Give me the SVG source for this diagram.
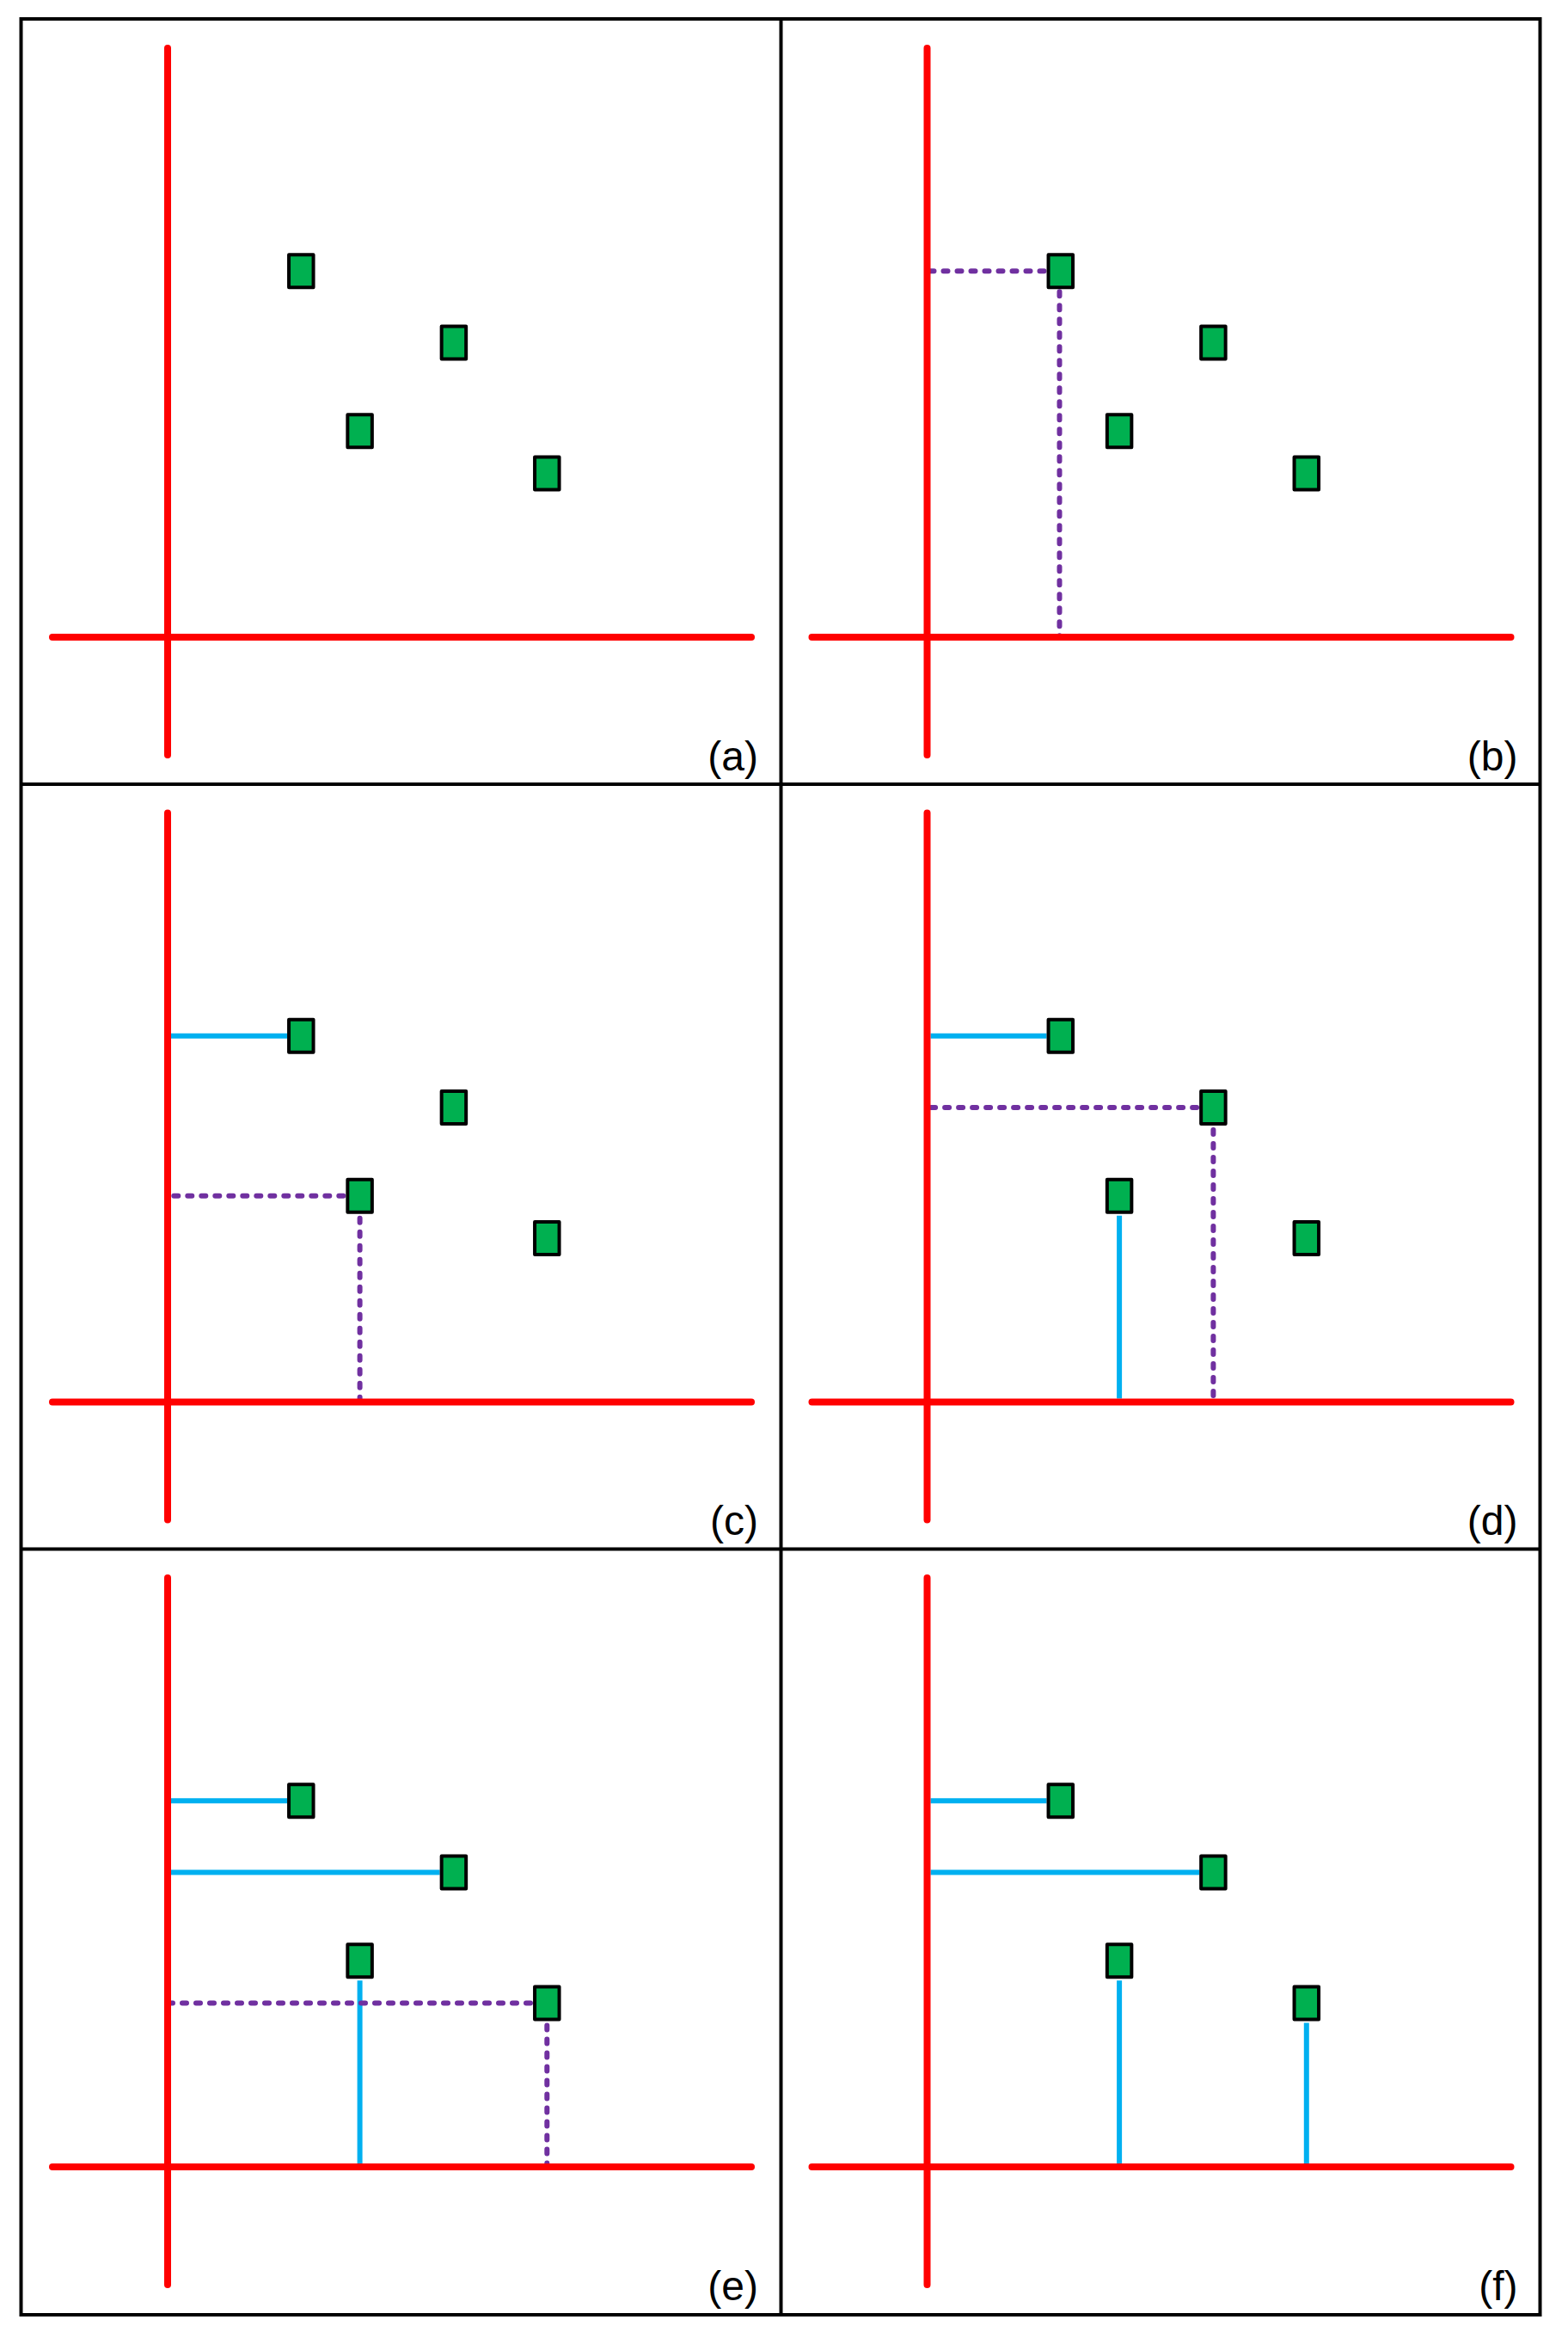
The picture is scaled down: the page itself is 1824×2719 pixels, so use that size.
<svg xmlns="http://www.w3.org/2000/svg" width="1824" height="2719" viewBox="0 0 1824 2719">
<style>
.frame{fill:none;stroke:#000;stroke-width:4}
.axis{stroke:#FF0000;stroke-width:8;stroke-linecap:round;fill:none}
.pt{fill:#00B050;stroke:#000;stroke-width:4;stroke-linejoin:round}
.solid{stroke:#00B0F0;stroke-width:6;fill:none}
.dot{stroke:#7030A0;stroke-width:6;stroke-dasharray:5 11;stroke-linecap:round;fill:none}
.lbl{font-family:"Liberation Sans",Arial,sans-serif;font-size:48px;fill:#000;text-anchor:end}
</style>
<rect width="1824" height="2719" fill="#fff"/>
<g id="frame">
<rect class="frame" x="24.5" y="22" width="1767" height="2670"/>
<line class="frame" x1="908.5" y1="22" x2="908.5" y2="2692"/>
<line class="frame" x1="24.5" y1="912" x2="1791.5" y2="912"/>
<line class="frame" x1="24.5" y1="1801.5" x2="1791.5" y2="1801.5"/>
</g>
<g id="connectors">
<g id="conn-b" transform="translate(883.5,0)">
<line class="dot" x1="198" y1="315.3" x2="331" y2="315.3"/>
<line class="dot" x1="349" y1="339.3" x2="349" y2="741"/>
</g>
<g id="conn-c" transform="translate(0,889.5)">
<line class="solid" x1="199" y1="315.3" x2="334" y2="315.3"/>
<line class="dot" x1="202.3" y1="501.3" x2="399.3" y2="501.3"/>
<line class="dot" x1="418.6" y1="527.3" x2="418.6" y2="741"/>
</g>
<g id="conn-d" transform="translate(883.5,889.5)">
<line class="solid" x1="199" y1="315.3" x2="334" y2="315.3"/>
<line class="dot" x1="199.6" y1="398.4" x2="508.6" y2="398.4"/>
<line class="dot" x1="527.9" y1="424.4" x2="527.9" y2="741"/>
<line class="solid" x1="418.6" y1="524.3" x2="418.6" y2="737"/>
</g>
<g id="conn-e" transform="translate(0,1779)">
<line class="solid" x1="199" y1="315.3" x2="334" y2="315.3"/>
<line class="solid" x1="199" y1="398.4" x2="511.6" y2="398.4"/>
<line class="solid" x1="418.6" y1="524.3" x2="418.6" y2="737"/>
<line class="dot" x1="196" y1="550.5" x2="617" y2="550.5"/>
<line class="dot" x1="636.3" y1="576.5" x2="636.3" y2="741"/>
</g>
<g id="conn-f" transform="translate(883.5,1779)">
<line class="solid" x1="199" y1="315.3" x2="334" y2="315.3"/>
<line class="solid" x1="199" y1="398.4" x2="511.6" y2="398.4"/>
<line class="solid" x1="418.6" y1="524.3" x2="418.6" y2="737"/>
<line class="solid" x1="636.3" y1="573.5" x2="636.3" y2="737"/>
</g>
</g>
<g id="axes">
<g transform="translate(0,0)"><line class="axis" x1="195" y1="56" x2="195" y2="878"/><line class="axis" x1="61" y1="741" x2="874" y2="741"/></g>
<g transform="translate(883.5,0)"><line class="axis" x1="195" y1="56" x2="195" y2="878"/><line class="axis" x1="61" y1="741" x2="874" y2="741"/></g>
<g transform="translate(0,889.5)"><line class="axis" x1="195" y1="56" x2="195" y2="878"/><line class="axis" x1="61" y1="741" x2="874" y2="741"/></g>
<g transform="translate(883.5,889.5)"><line class="axis" x1="195" y1="56" x2="195" y2="878"/><line class="axis" x1="61" y1="741" x2="874" y2="741"/></g>
<g transform="translate(0,1779)"><line class="axis" x1="195" y1="56" x2="195" y2="878"/><line class="axis" x1="61" y1="741" x2="874" y2="741"/></g>
<g transform="translate(883.5,1779)"><line class="axis" x1="195" y1="56" x2="195" y2="878"/><line class="axis" x1="61" y1="741" x2="874" y2="741"/></g>
</g>
<g id="panel-a" transform="translate(0,0)">
<g id="a-p1"><rect class="pt" x="336.05" y="296.3" width="28.5" height="38"/></g>
<g id="a-p2"><rect class="pt" x="513.65" y="379.4" width="28.5" height="38"/></g>
<g id="a-p3"><rect class="pt" x="404.35" y="482.3" width="28.5" height="38"/></g>
<g id="a-p4"><rect class="pt" x="622.05" y="531.5" width="28.5" height="38"/></g>
<text id="a-label" class="lbl" x="882" y="895.5">(a)</text>
</g>
<g id="panel-b" transform="translate(883.5,0)">
<g id="b-p1"><rect class="pt" x="336.05" y="296.3" width="28.5" height="38"/></g>
<g id="b-p2"><rect class="pt" x="513.65" y="379.4" width="28.5" height="38"/></g>
<g id="b-p3"><rect class="pt" x="404.35" y="482.3" width="28.5" height="38"/></g>
<g id="b-p4"><rect class="pt" x="622.05" y="531.5" width="28.5" height="38"/></g>
<text id="b-label" class="lbl" x="882" y="895.5">(b)</text>
</g>
<g id="panel-c" transform="translate(0,889.5)">
<g id="c-p1"><rect class="pt" x="336.05" y="296.3" width="28.5" height="38"/></g>
<g id="c-p2"><rect class="pt" x="513.65" y="379.4" width="28.5" height="38"/></g>
<g id="c-p3"><rect class="pt" x="404.35" y="482.3" width="28.5" height="38"/></g>
<g id="c-p4"><rect class="pt" x="622.05" y="531.5" width="28.5" height="38"/></g>
<text id="c-label" class="lbl" x="882" y="895.5">(c)</text>
</g>
<g id="panel-d" transform="translate(883.5,889.5)">
<g id="d-p1"><rect class="pt" x="336.05" y="296.3" width="28.5" height="38"/></g>
<g id="d-p2"><rect class="pt" x="513.65" y="379.4" width="28.5" height="38"/></g>
<g id="d-p3"><rect class="pt" x="404.35" y="482.3" width="28.5" height="38"/></g>
<g id="d-p4"><rect class="pt" x="622.05" y="531.5" width="28.5" height="38"/></g>
<text id="d-label" class="lbl" x="882" y="895.5">(d)</text>
</g>
<g id="panel-e" transform="translate(0,1779)">
<g id="e-p1"><rect class="pt" x="336.05" y="296.3" width="28.5" height="38"/></g>
<g id="e-p2"><rect class="pt" x="513.65" y="379.4" width="28.5" height="38"/></g>
<g id="e-p3"><rect class="pt" x="404.35" y="482.3" width="28.5" height="38"/></g>
<g id="e-p4"><rect class="pt" x="622.05" y="531.5" width="28.5" height="38"/></g>
<text id="e-label" class="lbl" x="882" y="895.5">(e)</text>
</g>
<g id="panel-f" transform="translate(883.5,1779)">
<g id="f-p1"><rect class="pt" x="336.05" y="296.3" width="28.5" height="38"/></g>
<g id="f-p2"><rect class="pt" x="513.65" y="379.4" width="28.5" height="38"/></g>
<g id="f-p3"><rect class="pt" x="404.35" y="482.3" width="28.5" height="38"/></g>
<g id="f-p4"><rect class="pt" x="622.05" y="531.5" width="28.5" height="38"/></g>
<text id="f-label" class="lbl" x="882" y="895.5">(f)</text>
</g>
</svg>
